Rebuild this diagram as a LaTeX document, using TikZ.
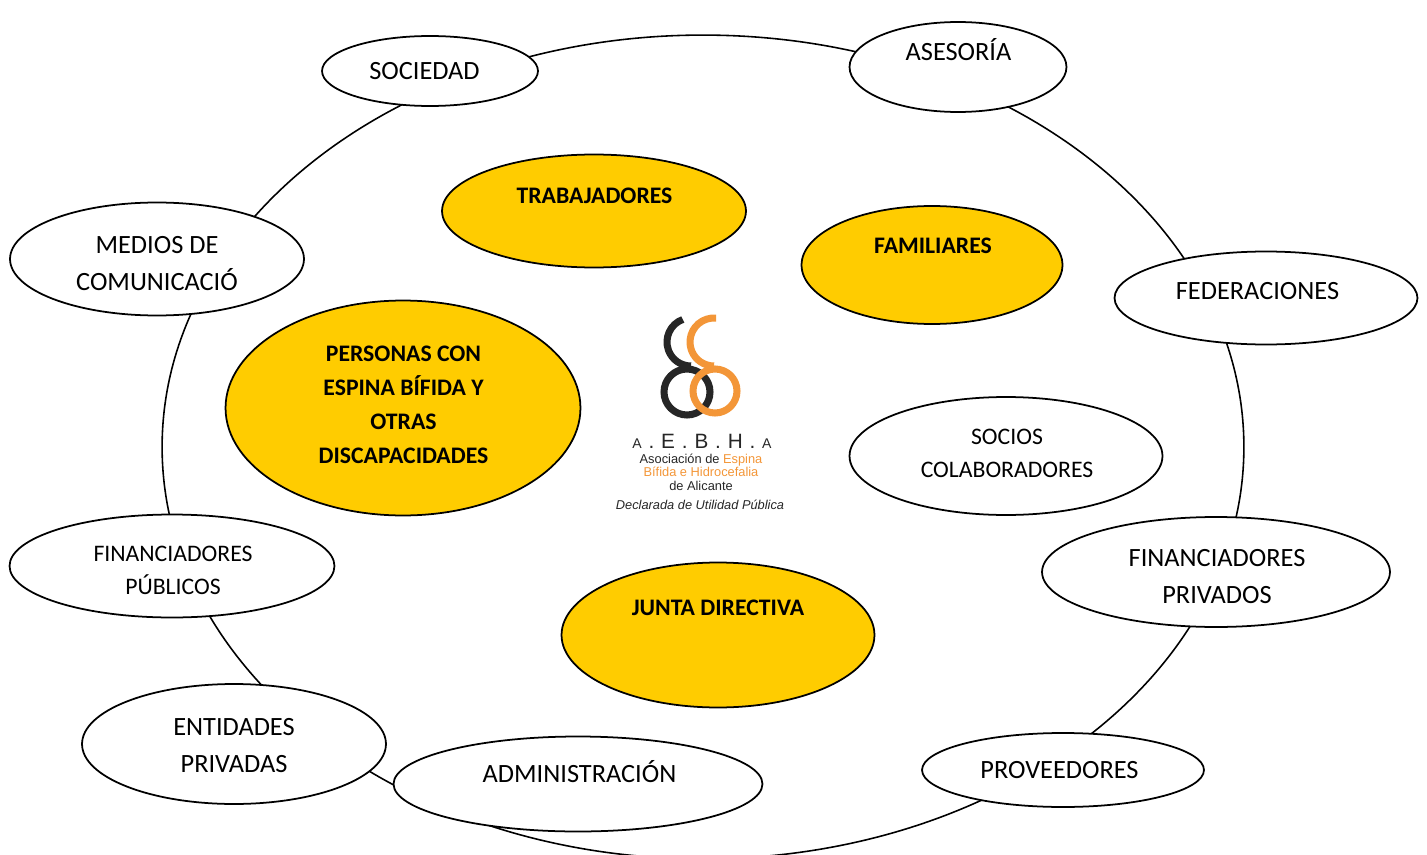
\documentclass[tikz,border=0pt]{standalone}
\usepackage{fontspec}
\setmainfont{Carlito}
\newfontfamily\logofont{Liberation Sans}
\usepackage{xcolor}
\usetikzlibrary{shapes}
\definecolor{gelb}{RGB}{255,204,0}
\definecolor{logoorange}{RGB}{243,150,56}
\tikzset{
  gruppe/.style={draw, ellipse, fill=white, line width=1pt, inner sep=0pt},
  kern/.style={draw, ellipse, fill=gelb, line width=1pt, inner sep=0pt},
  normal/.style={font=\fontsize{15}{21}\selectfont, align=center},
  klein/.style={font=\fontsize{13.5}{18.7}\selectfont, align=center},
  fett/.style={font=\fontsize{13.5}{19.3}\selectfont\bfseries, align=center},
  logotext/.style={font=\logofont\fontsize{7.3}{7.7}\selectfont, text=black!85, align=center},
  schleife/.style={line width=4pt}
}

\begin{document}
\begin{tikzpicture}[x=0.02cm, y=-0.02cm]
\useasboundingbox (0,0) rectangle (1427,855);
% Ring hinter den Ellipsen
\node[draw, ellipse, line width=0.9pt, minimum width=21.64cm, minimum height=16.48cm, inner sep=0pt] (ring) at (703,447) {};

\node[gruppe, minimum width=4.32cm, minimum height=1.40cm] (sociedad) at (430,71) {};
\node[gruppe, minimum width=4.34cm, minimum height=1.80cm] (asesoria) at (958,67) {};
\node[gruppe, minimum width=5.88cm, minimum height=2.26cm] (medios) at (157,259) {};
\node[gruppe, minimum width=6.06cm, minimum height=1.86cm] (federaciones) at (1266,298) {};
\node[gruppe, minimum width=6.26cm, minimum height=2.36cm] (socios) at (1006,456) {};
\node[gruppe, minimum width=6.50cm, minimum height=2.06cm] (finpub) at (172,566) {};
\node[gruppe, minimum width=6.96cm, minimum height=2.20cm] (finpriv) at (1216,572) {};
\node[gruppe, minimum width=6.08cm, minimum height=2.40cm] (entidades) at (234,744) {};
\node[gruppe, minimum width=7.38cm, minimum height=1.90cm] (admin) at (578,784) {};
\node[gruppe, minimum width=5.64cm, minimum height=1.48cm] (proveedores) at (1063,770) {};

\node[kern, minimum width=6.08cm, minimum height=2.26cm] (trabajadores) at (594,211) {};
\node[kern, minimum width=5.22cm, minimum height=2.36cm] (familiares) at (932,265) {};
\node[kern, minimum width=7.10cm, minimum height=4.30cm] (personas) at (403,408) {};
\node[kern, minimum width=6.26cm, minimum height=2.90cm] (junta) at (718,635) {};

\node[normal, anchor=base] (sociedadtxt) at (424.5,79.5) {SOCIEDAD};
\node[normal, anchor=base] (asesoriatxt) at (958.5,60.5) {ASESORÍA};
\node[normal] (mediostxt) at (157,263.5) {MEDIOS DE\\COMUNICACIÓ};
\node[normal, anchor=base] (federacionestxt) at (1257.5,299.5) {FEDERACIONES};
\node[klein] (sociostxt) at (1007,453.5) {SOCIOS\\COLABORADORES};
\node[klein] (finpubtxt) at (173,570.5) {FINANCIADORES\\PÚBLICOS};
\node[normal] (finprivtxt) at (1217,576.5) {FINANCIADORES\\PRIVADOS};
\node[normal] (entidadestxt) at (234,745.5) {ENTIDADES\\PRIVADAS};
\node[normal, anchor=base] (admintxt) at (579.5,782.5) {ADMINISTRACIÓN};
\node[normal, anchor=base] (proveedorestxt) at (1059.5,778.5) {PROVEEDORES};

\node[fett, anchor=base] (trabajadorestxt) at (594.5,203.7) {TRABAJADORES};
\node[fett, anchor=base] (familiarestxt) at (933,253.7) {FAMILIARES};
\node[fett] (personastxt) at (403.5,404.5) {PERSONAS CON\\ESPINA BÍFIDA Y\\OTRAS\\DISCAPACIDADES};
\node[fett, anchor=base] (juntatxt) at (718,615.7) {JUNTA DIRECTIVA};

% Logo
\draw[schleife, black!85] (691,342) ++(-110:24) arc[start angle=-110, end angle=-270, radius=24];
\draw[schleife, black!85] (687,392) circle[radius=23];
\draw[schleife, logoorange] (714,342) ++(-85:24) arc[start angle=-85, end angle=-270, radius=24];
\draw[schleife, logoorange] (715,391) circle[radius=22];

\node[anchor=base, font=\logofont\fontsize{11.8}{12}\selectfont, text=black!85, inner sep=0pt] (aebha) at (702,448)
  {{\fontsize{8}{8}\selectfont A}\hspace{3.9pt}.\hspace{3.9pt}E\hspace{3.9pt}.\hspace{3.9pt}B\hspace{3.9pt}.\hspace{3.9pt}H\hspace{3.9pt}.\hspace{3.9pt}{\fontsize{8}{8}\selectfont A}};
\node[logotext] (asociacion) at (701,472)
  {Asociación de \textcolor{logoorange}{Espina}\\\textcolor{logoorange}{Bífida e Hidrocefalia}\\de Alicante};
\node[logotext, anchor=base, font=\logofont\fontsize{7.3}{7.7}\selectfont\itshape] (declarada) at (700,509) {Declarada de Utilidad Pública};
\end{tikzpicture}
\end{document}
